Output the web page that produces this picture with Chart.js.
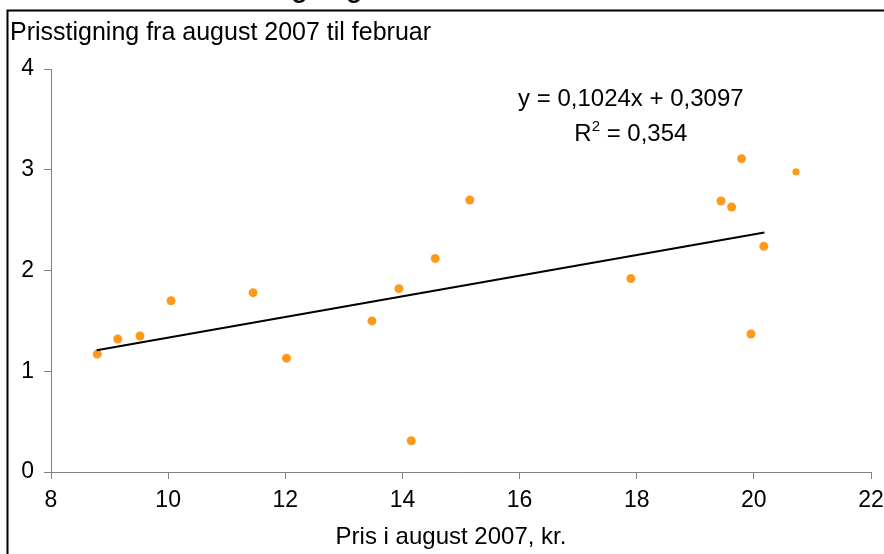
<!DOCTYPE html>
<html>
<head>
<meta charset="utf-8">
<script src="https://cdn.jsdelivr.net/npm/chart.js@4"></script>
<style>
  html, body { margin: 0; padding: 0; background: #fff; }
  #wrap { width: 884px; height: 554px; }
</style>
</head>
<body>
<div id="wrap"><canvas id="prisChart" width="884" height="554"></canvas></div>
<script>
// Price in August 2007 (kr.) vs. price increase up to February
const prisAugust = [8.79, 9.14, 9.52, 10.05, 11.45, 12.02, 13.48, 13.94, 14.15, 14.56, 15.15, 17.90, 19.44, 19.62, 19.79, 19.95, 20.17];
const prisstigning = [1.17, 1.32, 1.35, 1.70, 1.78, 1.13, 1.50, 1.82, 0.31, 2.12, 2.70, 1.92, 2.69, 2.63, 3.11, 1.37, 2.24];
// one extra observation drawn with a smaller marker
const ekstraX = [20.72];
const ekstraY = [2.98];

// linear trend as stated by the equation label
const trendSlope = 0.1024;
const trendIntercept = 0.3097;
const trendRange = [8.78, 20.18];
const r2 = 0.354;

const xTicks = [8, 10, 12, 14, 16, 18, 20, 22];
const yTicks = [0, 1, 2, 3, 4];

const FONT = "'Liberation Sans', Arial, sans-serif";
const ORANGE = '#fd9a1c';
const AXIS_GREY = '#808080';

const fmt = v => v.toString().replace('.', ',');

const points = prisAugust.map((x, i) => ({ x, y: prisstigning[i] }));
const extra = ekstraX.map((x, i) => ({ x, y: ekstraY[i] }));
const trend = trendRange.map(x => ({ x, y: trendSlope * x + trendIntercept }));

// frame, axis titles and the trend equation
const decorations = {
  id: 'decorations',
  afterDraw(chart) {
    const { ctx, scales: { x, y } } = chart;
    ctx.save();
    // outer frame (left and top edges)
    ctx.strokeStyle = '#000';
    ctx.lineWidth = 2;
    ctx.beginPath();
    ctx.moveTo(7.5, 554);
    ctx.lineTo(7.5, 10.5);
    ctx.lineTo(884, 10.5);
    ctx.stroke();

    // main title sits above the frame, only its descenders show
    ctx.fillStyle = '#000';
    ctx.font = `bold 26px ${FONT}`;
    ctx.textAlign = 'left';
    ctx.textBaseline = 'alphabetic';
    ctx.fillText('Prisstigning', 212, -2.5);

    // y axis title, written horizontally at top left
    ctx.font = `25px ${FONT}`;
    ctx.textBaseline = 'middle';
    ctx.fillText('Prisstigning fra august 2007 til februar', 10, 33);

    // x axis title, centred on the frame
    ctx.font = `24px ${FONT}`;
    ctx.textAlign = 'center';
    ctx.fillText('Pris i august 2007, kr.', 451, 537);

    // trend equation
    const cx = x.getPixelForValue(17.9);
    ctx.font = `24px ${FONT}`;
    ctx.textAlign = 'center';
    ctx.textBaseline = 'alphabetic';
    const eq = `y = ${fmt(trendSlope)}x + ${fmt(trendIntercept)}`;
    ctx.fillText(eq, cx, y.getPixelForValue(3.63));

    const rest = ` = ${fmt(r2)}`;
    const wR = ctx.measureText('R').width;
    ctx.font = `15px ${FONT}`;
    const wSup = ctx.measureText('2').width;
    ctx.font = `24px ${FONT}`;
    const wRest = ctx.measureText(rest).width;
    const total = wR + wSup + wRest;
    const by = y.getPixelForValue(3.29);
    let left = cx - total / 2;
    ctx.textAlign = 'left';
    ctx.fillText('R', left, by);
    ctx.font = `15px ${FONT}`;
    ctx.fillText('2', left + wR, by - 10);
    ctx.font = `24px ${FONT}`;
    ctx.fillText(rest, left + wR + wSup, by);
    ctx.restore();
  }
};

new Chart(document.getElementById('prisChart'), {
  type: 'scatter',
  data: {
    datasets: [
      {
        label: 'Trend',
        type: 'line',
        data: trend,
        borderColor: '#000',
        borderWidth: 2,
        pointRadius: 0,
        fill: false,
        order: 0
      },
      {
        label: 'Prisstigning',
        data: points,
        backgroundColor: ORANGE,
        borderColor: ORANGE,
        pointRadius: 4.5,
        pointBorderWidth: 0,
        order: 1
      },
      {
        label: 'Ekstra',
        data: extra,
        backgroundColor: ORANGE,
        borderColor: ORANGE,
        pointRadius: 3.6,
        pointBorderWidth: 0,
        order: 1
      }
    ]
  },
  options: {
    responsive: false,
    animation: false,
    layout: { padding: { top: 69, right: 0, left: 0, bottom: 0 } },
    plugins: {
      legend: { display: false },
      tooltip: { enabled: false }
    },
    scales: {
      x: {
        type: 'linear',
        min: 8,
        max: 22,
        afterBuildTicks: axis => { axis.ticks = xTicks.map(v => ({ value: v })); },
        afterFit: axis => { axis.height = 82; axis.paddingRight = 13; },
        border: { display: true, color: AXIS_GREY, width: 1 },
        grid: { drawOnChartArea: false, drawTicks: true, tickLength: 7, color: AXIS_GREY },
        ticks: { color: '#000', font: { family: FONT, size: 23 }, padding: 8, maxRotation: 0 }
      },
      y: {
        type: 'linear',
        min: 0,
        max: 4,
        afterBuildTicks: axis => { axis.ticks = yTicks.map(v => ({ value: v })); },
        afterFit: axis => { axis.width = 51; },
        border: { display: true, color: AXIS_GREY, width: 1 },
        grid: { drawOnChartArea: false, drawTicks: true, tickLength: 7, color: AXIS_GREY },
        ticks: { color: '#000', font: { family: FONT, size: 23 }, padding: 10 }
      }
    }
  },
  plugins: [decorations]
});
</script>
</body>
</html>
